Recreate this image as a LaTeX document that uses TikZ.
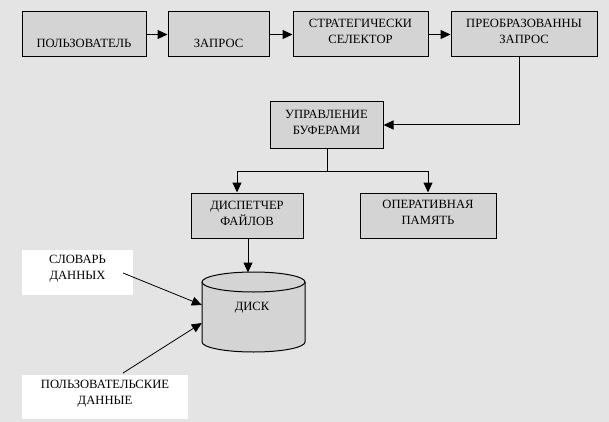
\documentclass[tikz,border=0pt]{standalone}
\usepackage{fontspec}
\setmainfont{Liberation Serif}
\usetikzlibrary{arrows.meta}
\definecolor{bgc}{HTML}{E4E4E4}
\definecolor{boxc}{HTML}{D4D4D4}
\tikzset{
  blk/.style={draw=black, line width=1pt, fill=boxc, inner sep=0pt},
  lbl/.style={inner sep=0pt, align=center, font=\fontsize{12.6pt}{16pt}\selectfont},
  whitebox/.style={fill=white, inner sep=0pt},
  conn/.style={line width=1pt, -{Triangle[length=10pt,width=9pt]}},
  plain/.style={line width=1pt},
  thinarr/.style={line width=0.8pt, -{Triangle[length=10pt,width=9pt]}}
}
\begin{document}
\begin{tikzpicture}[x=1pt,y=-1pt]
\useasboundingbox (0,0) rectangle (609,422);
\fill[bgc] (0,0) rectangle (609,422);

% boxes
\node[blk, minimum width=124, minimum height=45] (user) at (84,34.5) {};
\node[blk, minimum width=101, minimum height=45] (query) at (218.5,34.5) {};
\node[blk, minimum width=135, minimum height=45] (sel) at (360.5,34.5) {};
\node[blk, minimum width=146, minimum height=45] (trans) at (524,34.5) {};
\node[blk, minimum width=113, minimum height=46] (buf) at (326.5,125) {};
\node[blk, minimum width=112, minimum height=45] (disp) at (247,215.5) {};
\node[blk, minimum width=136, minimum height=45] (ram) at (428,215.5) {};

% box texts
\node[lbl] (usert) at (84,43) {ПОЛЬЗОВАТЕЛЬ};
\node[lbl] (queryt) at (218.5,43) {ЗАПРОС};
\node[lbl] (selt) at (360.5,31) {СТРАТЕГИЧЕСКИ\\СЕЛЕКТОР};
\node[lbl] (transt) at (524,31) {ПРЕОБРАЗОВАННЫ\\ЗАПРОС};
\node[lbl] (buft) at (326.5,122) {УПРАВЛЕНИЕ\\БУФЕРАМИ};
\node[lbl] (dispt) at (247,213) {ДИСПЕТЧЕР\\ФАЙЛОВ};
\node[lbl] (ramt) at (428,212.5) {ОПЕРАТИВНАЯ\\ПАМЯТЬ};

% disk
\node[inner sep=0pt, minimum width=103, minimum height=80] (disk) at (253.5,312) {};
\fill[boxc] (202,282) arc[x radius=51.5, y radius=10, start angle=180, end angle=360]
  -- (305,342) arc[x radius=51.5, y radius=10, start angle=0, end angle=180] -- cycle;
\draw[plain] (253.5,282) ellipse[x radius=51.5, y radius=10];
\draw[plain] (202,282) -- (202,342) arc[x radius=51.5, y radius=10, start angle=180, end angle=0] -- (305,282);
\node[lbl] (diskt) at (252,308) {ДИСК};

% white label boxes
\node[whitebox, minimum width=111, minimum height=45] (dict) at (77.5,272.5) {};
\node[lbl] (dictt) at (77.5,269) {СЛОВАРЬ\\ДАННЫХ};
\node[whitebox, minimum width=166, minimum height=44] (udata) at (105,397) {};
\node[lbl] (udatat) at (105,393.5) {ПОЛЬЗОВАТЕЛЬСКИЕ\\ДАННЫЕ};

% connectors
\draw[conn] (user.east) -- (query.west);
\draw[conn] (query.east) -- (sel.west);
\draw[conn] (sel.east) -- (trans.west);
\draw[conn] ([xshift=-5pt]trans.south) |- (buf.east);
\coordinate (split) at (327,171);
\draw[plain] ([xshift=0.5pt]buf.south) -- (split);
\draw[conn] (split) -| ([xshift=-10pt]disp.north);
\draw[conn] (split) -| (ram.north);
\draw[conn] ([xshift=1pt]disp.south) -- (248,272.5);
\coordinate (dictstart) at (123,273);
\coordinate (udatastart) at (123,373);
\draw[thinarr] (dictstart) -- ([yshift=7pt]disk.west);
\draw[thinarr] (udatastart) -- ([yshift=-11pt]disk.west);
\end{tikzpicture}
\end{document}
